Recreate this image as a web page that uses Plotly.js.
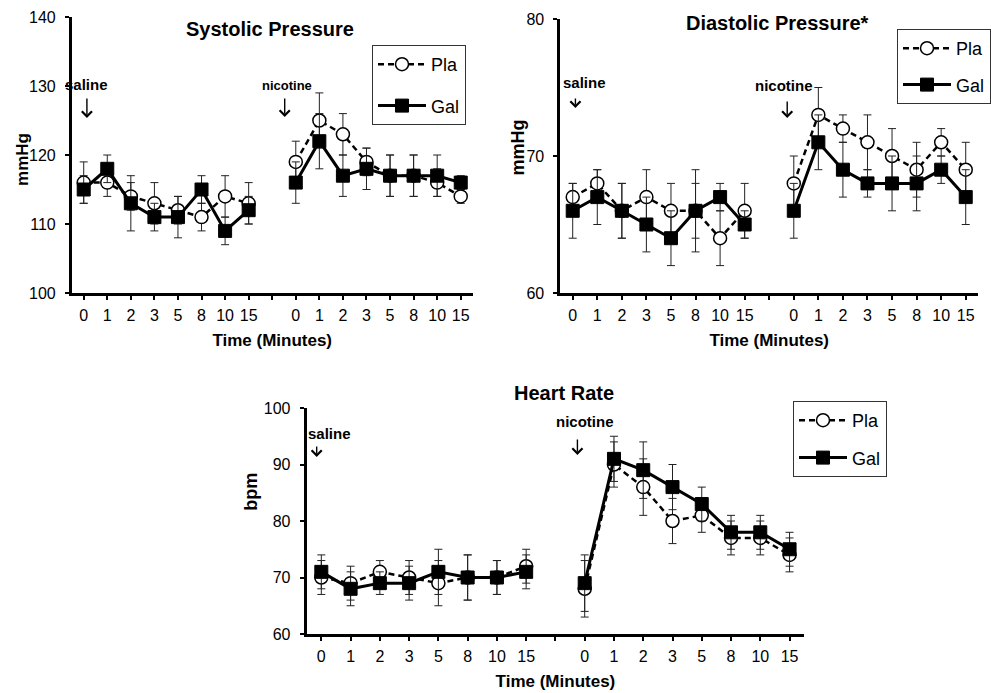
<!DOCTYPE html>
<html>
<head>
<meta charset="utf-8">
<script src="https://cdn.plot.ly/plotly-3.0.1.min.js"></script>
<style>
html,body{margin:0;padding:0;background:#ffffff;}
#chart{width:991px;height:693px;}
</style>
</head>
<body>
<div id="chart"></div>
<script>
// ---- data ----
const timeLabels = ['0','1','2','3','5','8','10','15'];
const seriesNames = ['Pla','Gal'];

// Systolic pressure (mmHg)
const sysPlaSaline   = [116,116,114,113,112,111,114,113];
const sysPlaNicotine = [119,125,123,119,117,117,116,114];
const sysGalSaline   = [115,118,113,111,111,115,109,112];
const sysGalNicotine = [116,122,117,118,117,117,117,116];
const sysPlaErrSaline   = [3,2,2,3,2,2,3,3];
const sysPlaErrNicotine = [3,4,3,2,3,3,2,1];
const sysGalErrSaline   = [2,2,4,2,3,2,2,2];
const sysGalErrNicotine = [3,4,3,3,3,3,3,1];

// Diastolic pressure (mmHg)
const diaPlaSaline   = [67,68,66,67,66,66,64,66];
const diaPlaNicotine = [68,73,72,71,70,69,71,69];
const diaGalSaline   = [66,67,66,65,64,66,67,65];
const diaGalNicotine = [66,71,69,68,68,68,69,67];
const diaPlaErrSaline   = [1,1,2,2,2,2,2,2];
const diaPlaErrNicotine = [2,2,1,2,2,2,1,2];
const diaGalErrSaline   = [2,2,2,2,2,3,1,1];
const diaGalErrNicotine = [2,2,2,1,2,2,1,2];

// Heart rate (bpm)
const hrPlaSaline   = [70,69,71,70,69,70,70,72];
const hrPlaNicotine = [68,90,86,80,81,77,77,74];
const hrGalSaline   = [71,68,69,69,71,70,70,71];
const hrGalNicotine = [69,91,89,86,83,78,78,75];
const hrPlaErrSaline   = [3,3,2,3,4,4,3,3];
const hrPlaErrNicotine = [5,4,5,4,3,3,3,3];
const hrGalErrSaline   = [3,3,2,3,4,4,3,3];
const hrGalErrNicotine = [5,4,5,4,3,3,3,3];

// ---- helpers ----
const W = 991, H = 693;
const px = v => v / W;
const py = v => 1 - v / H;
const FONT = 'Liberation Sans, Arial, sans-serif';

const tickText = timeLabels.concat([''], timeLabels);
const tickVals = tickText.map((_, i) => i);
const joinSeries = (a, b) => a.concat([null], b);
const joinErr = (a, b) => a.concat([0], b);

function makePair(plaSal, plaNic, galSal, galNic, plaES, plaEN, galES, galEN, xa, ya, leg) {
  const plaStyle = {
    mode: 'lines+markers',
    line: {color: '#000', width: 2.5, dash: '6px,4px'},
    marker: {symbol: 'circle', size: 13, color: '#fff', line: {color: '#000', width: 1.5}}
  };
  const galStyle = {
    mode: 'lines+markers',
    line: {color: '#000', width: 3},
    marker: {symbol: 'square', size: 13, color: '#000', line: {color: '#000', width: 1}}
  };
  const errStyle = {type: 'data', visible: true, color: '#222', thickness: 1, width: 4};
  return [
    Object.assign({
      type: 'scatter', name: seriesNames[0], x: tickVals,
      y: joinSeries(plaSal, plaNic), connectgaps: false,
      error_y: Object.assign({array: joinErr(plaES, plaEN)}, errStyle),
      xaxis: xa, yaxis: ya, legend: leg, legendgroup: leg + 'a'
    }, plaStyle),
    Object.assign({
      type: 'scatter', name: seriesNames[1], x: tickVals,
      y: joinSeries(galSal, galNic), connectgaps: false,
      error_y: Object.assign({array: joinErr(galES, galEN)}, errStyle),
      xaxis: xa, yaxis: ya, legend: leg, legendgroup: leg + 'b'
    }, galStyle)
  ];
}

const data = [].concat(
  makePair(sysPlaSaline, sysPlaNicotine, sysGalSaline, sysGalNicotine,
           sysPlaErrSaline, sysPlaErrNicotine, sysGalErrSaline, sysGalErrNicotine, 'x', 'y', 'legend'),
  makePair(diaPlaSaline, diaPlaNicotine, diaGalSaline, diaGalNicotine,
           diaPlaErrSaline, diaPlaErrNicotine, diaGalErrSaline, diaGalErrNicotine, 'x2', 'y2', 'legend2'),
  makePair(hrPlaSaline, hrPlaNicotine, hrGalSaline, hrGalNicotine,
           hrPlaErrSaline, hrPlaErrNicotine, hrGalErrSaline, hrGalErrNicotine, 'x3', 'y3', 'legend3')
);

function xAxis(domain, anchor) {
  return {
    domain: domain, anchor: anchor, range: [-0.5, 16.5],
    tickmode: 'array', tickvals: tickVals, ticktext: tickText,
    showline: true, linecolor: '#000', linewidth: 3,
    ticks: 'outside', ticklen: 4, tickwidth: 2, tickcolor: '#000',
    showgrid: false, zeroline: false, fixedrange: true,
    tickfont: {family: FONT, size: 16, color: '#000'},
    ticklabelstandoff: 2,
    title: {text: '<b>Time (Minutes)</b>', font: {family: FONT, size: 17, color: '#000'}, standoff: 11}
  };
}
function yAxis(domain, anchor, range) {
  return {
    domain: domain, anchor: anchor, range: range, dtick: 10,
    showline: true, linecolor: '#000', linewidth: 3,
    ticks: 'outside', ticklen: 4, tickwidth: 2, tickcolor: '#000',
    showgrid: false, zeroline: false, fixedrange: true,
    tickfont: {family: FONT, size: 16, color: '#000'},
    ticklabelstandoff: 6
  };
}
function legendAt(left, top, gap) {
  return {
    x: px(left), y: py(top), xanchor: 'left', yanchor: 'top',
    xref: 'paper', yref: 'paper',
    bgcolor: '#fff', bordercolor: '#333', borderwidth: 1,
    font: {family: FONT, size: 18, color: '#000'},
    itemwidth: 48, tracegroupgap: gap, traceorder: 'grouped'
  };
}
function txt(text, x, y, size, angle) {
  return {
    text: text, xref: 'paper', yref: 'paper', x: px(x), y: py(y),
    xanchor: 'center', yanchor: 'middle', showarrow: false,
    textangle: angle || 0,
    font: {family: FONT, size: size, color: '#000'}
  };
}
// thin down-arrow drawn by Plotly: tip at (x, tipY), tail 'len' px above
function arrow(x, tipY, len) {
  return {
    text: '', xref: 'paper', yref: 'paper', x: px(x), y: py(tipY),
    showarrow: true, ax: 0, ay: -len, axref: 'pixel', ayref: 'pixel',
    arrowhead: 4, arrowsize: 1.4, arrowwidth: 1.4, arrowcolor: '#000',
    standoff: 0, startstandoff: 0
  };
}

const layout = {
  width: W, height: H,
  margin: {l: 0, r: 0, t: 0, b: 0},
  paper_bgcolor: '#fff', plot_bgcolor: '#fff',
  font: {family: FONT, color: '#000'},
  showlegend: true,
  xaxis:  xAxis([px(72), px(473)], 'y'),
  yaxis:  yAxis([py(293), py(17)], 'x', [100, 140]),
  xaxis2: xAxis([px(561), px(979)], 'y2'),
  yaxis2: yAxis([py(293), py(19)], 'x2', [60, 80]),
  xaxis3: xAxis([px(307), px(805)], 'y3'),
  yaxis3: yAxis([py(634), py(408)], 'x3', [60, 100]),
  legend:  legendAt(372, 45, 15),
  legend2: legendAt(898, 29, 10),
  legend3: legendAt(793, 401, 11),
  annotations: [
    txt('<b>Systolic Pressure</b>', 270, 29, 20),
    txt('<b>Diastolic Pressure*</b>', 778, 23, 20),
    txt('<b>Heart Rate</b>', 565, 393, 20),
    txt('<b>mmHg</b>', 22, 159, 17, -90),
    txt('<b>mmHg</b>', 519, 147, 18, -90),
    txt('<b>bpm</b>', 251, 492, 18, -90),
    txt('<b>saline</b>', 87, 84, 15),
    txt('<b>nicotine</b>', 287, 85, 13),
    txt('<b>saline</b>', 585, 83, 15),
    txt('<b>nicotine</b>', 785, 86, 15),
    txt('<b>saline</b>', 330, 433, 15),
    txt('<b>nicotine</b>', 586, 422, 15),
    arrow(87, 118, 21),
    arrow(285, 117, 20),
    arrow(576, 108, 11),
    arrow(788, 118, 18),
    arrow(317, 457, 12),
    arrow(578, 455, 17)
  ]
};

Plotly.newPlot('chart', data, layout, {displayModeBar: false, staticPlot: true});
</script>
</body>
</html>
